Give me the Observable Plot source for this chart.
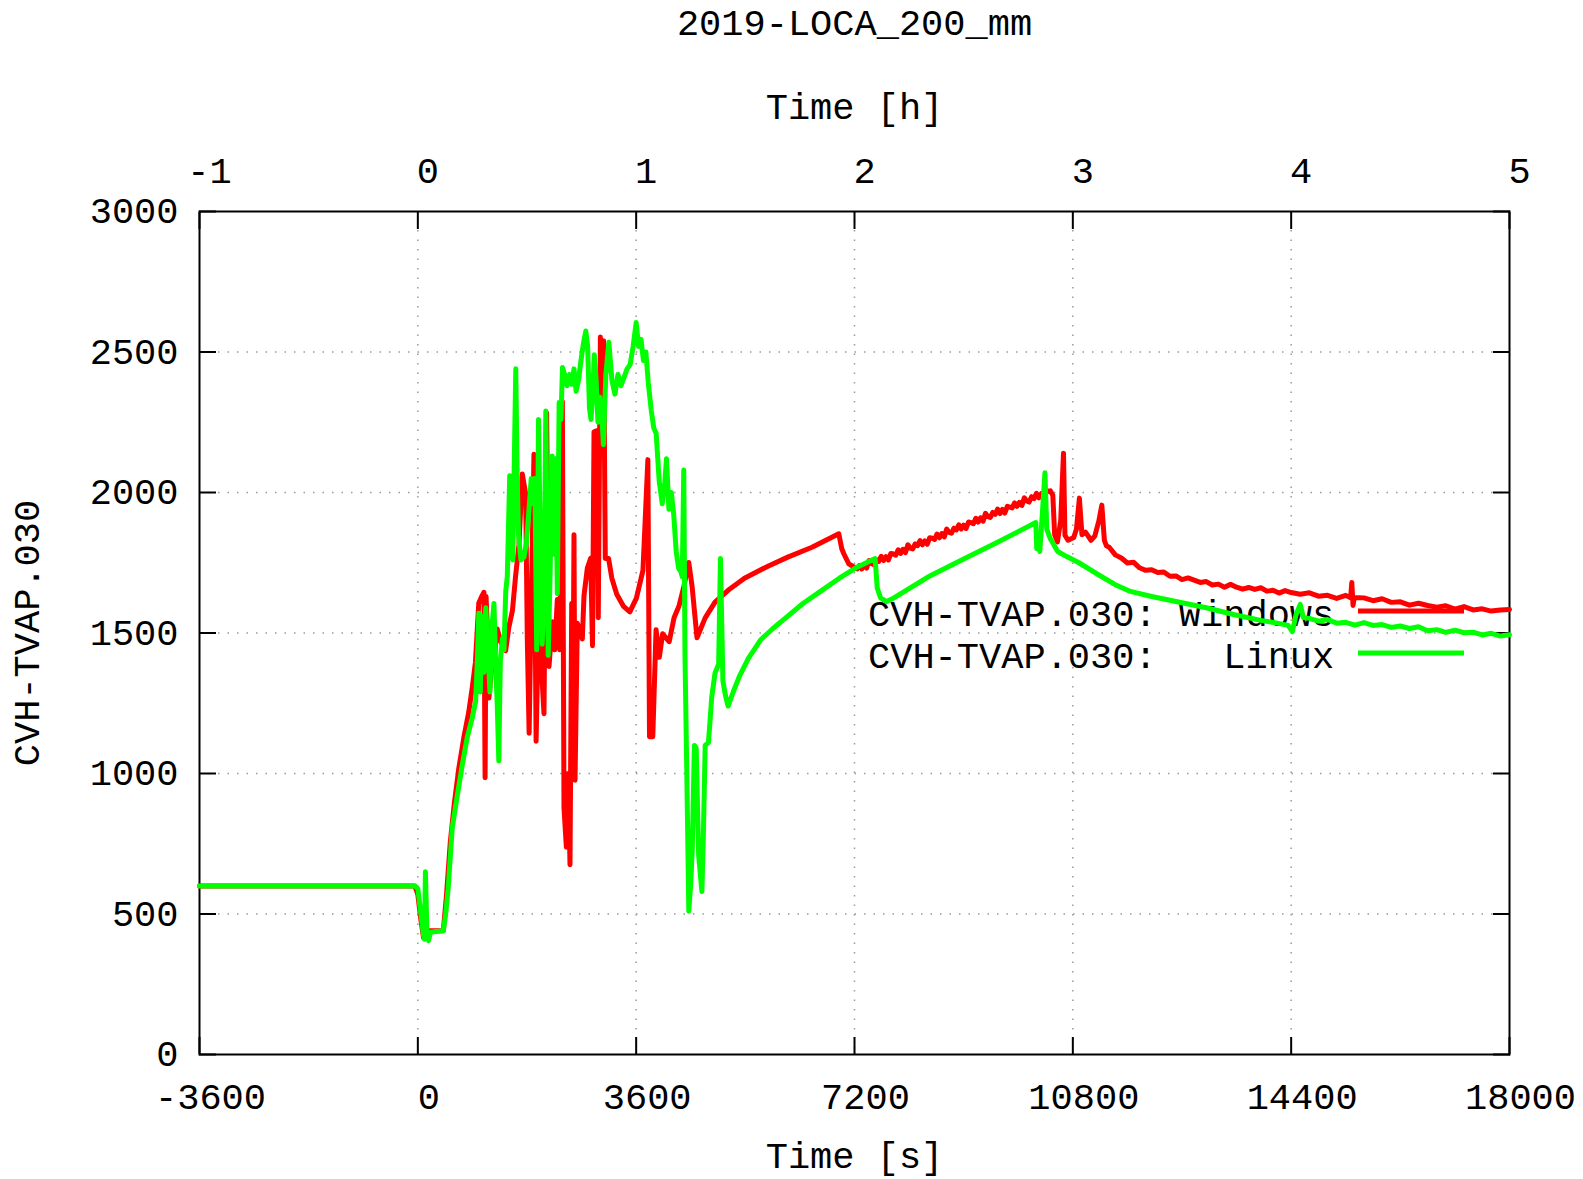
<!DOCTYPE html>
<html>
<head>
<meta charset="utf-8">
<script src="https://cdn.jsdelivr.net/npm/d3@7"></script>
<script src="https://cdn.jsdelivr.net/npm/@observablehq/plot@0.6"></script>
<style>
  html, body { margin: 0; padding: 0; background: #fff; overflow: hidden; }
</style>
</head>
<body>
<div id="chart"></div>
<script>
// ---- chart text ----
const chartTitle = "2019-LOCA_200_mm";
const xLabelBottom = "Time [s]";
const xLabelTop = "Time [h]";
const yLabel = "CVH-TVAP.030";
const seriesLabels = ["CVH-TVAP.030: Windows", "CVH-TVAP.030:   Linux"];
const seriesColors = ["#ff0000", "#00ff00"];

// ---- ticks ----
const xTicks = [-3600, 0, 3600, 7200, 10800, 14400, 18000];
const yTicks = [0, 500, 1000, 1500, 2000, 2500, 3000];

// ---- series: [time s, value] ----
const windows = [
  [-3600,600],[-50,600],[0,570],[50,480],[95,415],[130,440],[420,440],[470,560],[535,755],[600,890],
  [674,1016],[760,1130],[839,1218],[900,1310],[950,1396],[990,1550],[1005,1607],[1060,1633],[1090,1645],
  [1109,985],[1125,1630],[1150,1500],[1172,1269],[1210,1360],[1253,1396],[1310,1514],[1365,1470],
  [1448,1437],[1500,1520],[1560,1580],[1612,1703],[1668,1815],[1722,2066],[1778,1996],[1805,1479],
  [1835,1143],[1871,1619],[1915,2136],[1950,1115],[1998,1619],[2040,1370],[2080,1213],[2124,2283],
  [2163,1381],[2218,1540],[2256,1440],[2300,1619],[2340,1440],[2383,2325],[2410,878],[2449,738],
  [2480,1000],[2509,675],[2537,1605],[2560,1300],[2575,1850],[2592,976],[2630,1535],[2712,1479],
  [2740,1633],[2795,1731],[2850,1766],[2880,1455],[2905,2216],[2956,2220],[2975,1554],[3010,2553],
  [3035,2200],[3064,2540],[3091,1765],[3145,1765],[3199,1695],[3280,1638],[3388,1596],[3496,1575],
  [3604,1624],[3712,1723],[3793,2117],[3820,1131],[3874,1131],[3928,1512],[3982,1414],[4036,1497],
  [4144,1469],[4225,1554],[4306,1596],[4387,1666],[4468,1751],[4522,1666],[4603,1483],[4738,1554],
  [4900,1610],[5116,1652],[5386,1695],[5764,1737],[6100,1770],[6500,1805],[6941,1853],[6990,1800],
  [7024,1782],[7106,1746],[7243,1728],
  [7280,1740],[7320,1728],[7360,1742],[7400,1731],[7440,1758],[7480,1747],[7520,1743],[7560,1761],
  [7600,1755],[7640,1773],[7680,1758],[7720,1772],[7760,1760],[7800,1783],[7840,1781],[7880,1777],
  [7920,1796],[7960,1783],[8000,1798],[8040,1786],[8080,1814],[8120,1802],[8160,1799],[8200,1817],
  [8240,1811],[8280,1829],[8320,1814],[8360,1828],[8400,1816],[8440,1839],[8480,1837],[8520,1833],
  [8560,1852],[8600,1839],[8640,1854],[8680,1842],[8720,1870],[8760,1858],[8800,1855],[8840,1873],
  [8880,1867],[8920,1885],[8960,1870],[9000,1884],[9040,1872],[9080,1895],[9120,1893],[9160,1889],
  [9200,1908],[9240,1895],[9280,1910],[9320,1898],[9360,1926],[9400,1914],[9440,1911],[9480,1929],
  [9520,1922],[9560,1941],[9600,1925],[9640,1940],[9680,1927],[9720,1951],[9760,1948],[9800,1945],
  [9840,1963],[9880,1951],[9920,1965],[9960,1954],[10000,1981],[10040,1970],[10080,1966],[10120,1985],
  [10160,1978],[10200,1997],[10240,1981],[10280,1996],[10320,1983],[10360,2007],[10400,2004],
  [10430,2006],[10470,1990],[10500,1850],[10546,1824],[10600,1900],[10646,2140],[10670,1848],
  [10720,1830],[10815,1840],[10860,1870],[10908,1980],[10950,1850],[11008,1859],[11100,1830],
  [11162,1845],[11230,1900],[11278,1955],[11320,1830],[11355,1810],
  [11400,1805],[11500,1778],[11600,1767],[11700,1749],[11800,1752],[11900,1732],[12000,1723],
  [12100,1725],[12200,1715],[12300,1717],[12400,1702],[12500,1703],[12600,1690],[12700,1696],
  [12800,1688],[12900,1680],[13000,1683],[13100,1671],[13200,1674],[13300,1663],[13400,1673],
  [13500,1663],[13600,1656],[13700,1662],[13800,1655],[13900,1661],[14000,1649],[14100,1652],
  [14200,1642],[14300,1651],[14400,1644],[14550,1638],[14700,1643],[14850,1631],[15000,1634],
  [15150,1623],[15300,1634],[15380,1625],[15400,1680],[15420,1598],[15440,1626],[15600,1625],
  [15750,1615],[15900,1622],[16050,1609],[16200,1611],[16350,1599],[16500,1606],[16650,1598],
  [16800,1592],[16950,1597],[17100,1585],[17250,1594],[17400,1582],[17550,1586],[17700,1578],
  [17850,1582],[18000,1584]
];

const linux = [
  [-3600,600],[-50,600],[0,590],[40,520],[90,430],[110,410],[125,650],[150,440],[175,405],[210,435],
  [300,438],[420,440],[460,500],[500,590],[568,808],[650,920],[733,1031],[815,1129],[898,1199],
  [953,1255],[985,1420],[1005,1570],[1030,1290],[1060,1560],[1090,1360],[1120,1590],[1150,1470],
  [1189,1290],[1225,1530],[1255,1605],[1285,1380],[1310,1240],[1335,1045],[1360,1400],[1395,1480],
  [1420,1440],[1450,1650],[1475,1700],[1495,1880],[1515,2060],[1540,1990],[1565,1760],[1590,2100],
  [1615,2440],[1638,2060],[1660,1850],[1700,1760],[1750,1770],[1790,1820],[1830,1930],[1870,2050],
  [1900,1960],[1930,2050],[1960,1440],[1990,2260],[2020,1800],[2050,1460],[2080,1620],[2110,2290],
  [2150,1420],[2180,1700],[2215,2130],[2245,1780],[2275,2120],[2300,1640],[2330,2320],[2360,2260],
  [2385,2445],[2420,2420],[2460,2380],[2500,2420],[2540,2385],[2575,2440],[2610,2360],[2650,2400],
  [2690,2470],[2730,2530],[2770,2575],[2800,2520],[2830,2300],[2855,2260],[2880,2340],[2910,2490],
  [2940,2400],[2970,2250],[3000,2340],[3035,2270],[3060,2170],[3100,2420],[3150,2535],[3200,2400],
  [3250,2350],[3300,2420],[3350,2380],[3400,2410],[3450,2440],[3500,2455],[3550,2520],[3600,2605],
  [3640,2520],[3680,2545],[3720,2470],[3760,2500],[3800,2390],[3850,2290],[3890,2230],[3930,2210],
  [3980,2040],[4030,1960],[4070,2030],[4100,2120],[4140,1940],[4180,2000],[4220,1920],[4260,1790],
  [4300,1730],[4335,1720],[4360,1700],[4385,2080],[4405,1420],[4435,1000],[4468,510],[4500,610],
  [4525,730],[4560,1100],[4590,1090],[4630,710],[4684,580],[4710,800],[4738,1100],[4792,1110],
  [4846,1272],[4900,1357],[4960,1390],[4990,1765],[5030,1330],[5070,1280],[5116,1240],[5200,1290],
  [5300,1345],[5450,1410],[5650,1475],[5850,1515],[6100,1560],[6350,1605],[6650,1650],[6950,1695],
  [7250,1735],[7540,1765],[7575,1660],[7630,1625],[7730,1612],[7850,1625],[8450,1704],[9000,1763],
  [9550,1822],[10190,1893],[10205,1800],[10230,1830],[10255,1790],[10290,1900],[10340,2070],
  [10370,1870],[10430,1835],[10550,1790],[10700,1772],[10900,1750],[11200,1710],[11500,1672],
  [11750,1648],[12100,1630],[12500,1612],[13000,1590],[13450,1566],[13900,1545],[14150,1536],
  [14350,1527],[14420,1505],[14480,1565],[14550,1602],[14600,1555],[14700,1552],[14850,1542],
  [15000,1548],[15150,1535],[15300,1538],[15450,1528],[15600,1537],[15750,1527],[15900,1530],
  [16050,1520],[16200,1525],[16350,1516],[16500,1522],[16650,1508],[16800,1512],[16950,1502],
  [17100,1510],[17250,1501],[17400,1503],[17550,1493],[17700,1499],[17850,1489],[18000,1494]
];

const FONT = "'Liberation Mono', 'Courier New', 'DejaVu Sans Mono', monospace";
const FS = 37;

function legendItem(label, color, rowOffset) {
  return (index, scales, values, dim) => {
    const g = d3.create("svg:g");
    const xr = dim.width - dim.marginRight;
    const y = dim.marginTop + rowOffset;
    g.append("text")
      .attr("x", xr - 641)
      .attr("y", y)
      .attr("dy", "0.32em")
      .attr("text-anchor", "start")
      .attr("xml:space", "preserve")
      .style("white-space", "pre")
      .attr("font-family", FONT)
      .attr("font-size", FS)
      .attr("fill", "#000")
      .text(label);
    g.append("line")
      .attr("x1", xr - 151).attr("x2", xr - 45)
      .attr("y1", y - 3).attr("y2", y - 3)
      .attr("stroke", color).attr("stroke-width", 5);
    return g.node();
  };
}

const gridStyle = {stroke: "#9a9a9a", strokeOpacity: 1, strokeWidth: 1.5, strokeDasharray: "1.5,8"};

const chart = Plot.plot({
  width: 1583,
  height: 1179,
  marginLeft: 199,
  marginRight: 74,
  marginTop: 211,
  marginBottom: 125,
  style: {fontFamily: FONT, fontSize: FS + "px", color: "#000", background: "#fff"},
  x: {domain: [-3600, 18000], nice: false},
  y: {domain: [0, 3000], nice: false},
  marks: [
    Plot.gridX(xTicks.slice(1, -1), gridStyle),
    Plot.gridY(yTicks.slice(1, -1), gridStyle),
    // inward tick marks on all four sides
    Plot.axisY({anchor: "left", ticks: yTicks, tickSize: 17, dx: 17, tickFormat: () => "", label: null, strokeWidth: 2}),
    Plot.axisY({anchor: "right", ticks: yTicks, tickSize: 17, dx: -17, tickFormat: () => "", label: null, strokeWidth: 2}),
    Plot.axisX({anchor: "bottom", ticks: xTicks, tickSize: 17, dy: -17, tickFormat: () => "", label: null, strokeWidth: 2}),
    Plot.axisX({anchor: "top", ticks: xTicks, tickSize: 17, dy: 17, tickFormat: () => "", label: null, strokeWidth: 2}),
    // tick labels
    Plot.axisY({anchor: "left", ticks: yTicks, tickSize: 0, tickPadding: 21, tickFormat: d => String(d), label: null, fontSize: FS}),
    Plot.axisX({anchor: "bottom", ticks: xTicks, tickSize: 0, tickPadding: 28, dx: 11, tickFormat: d => String(d), label: null, fontSize: FS}),
    Plot.axisX({anchor: "top", ticks: xTicks, tickSize: 0, tickPadding: 29, dx: 10, tickFormat: d => String(d / 3600), label: null, fontSize: FS}),
    Plot.frame({stroke: "#000", strokeWidth: 2}),
    // titles
    Plot.text([chartTitle], {frameAnchor: "top", dy: -188, lineAnchor: "middle", textAnchor: "middle", fontSize: FS, fill: "#000"}),
    Plot.text([xLabelTop], {frameAnchor: "top", dy: -104, lineAnchor: "middle", textAnchor: "middle", fontSize: FS, fill: "#000"}),
    Plot.text([xLabelBottom], {frameAnchor: "bottom", dy: 102, lineAnchor: "middle", textAnchor: "middle", fontSize: FS, fill: "#000"}),
    Plot.text([yLabel], {frameAnchor: "left", dx: -172, rotate: -90, lineAnchor: "middle", textAnchor: "middle", fontSize: FS, fill: "#000"}),
    // series 1
    legendItem(seriesLabels[0], seriesColors[0], 403),
    Plot.line(windows, {x: d => d[0], y: d => d[1], stroke: seriesColors[0], strokeWidth: 5, strokeLinejoin: "round"}),
    // series 2
    legendItem(seriesLabels[1], seriesColors[1], 445),
    Plot.line(linux, {x: d => d[0], y: d => d[1], stroke: seriesColors[1], strokeWidth: 5, strokeLinejoin: "round"})
  ]
});
document.getElementById("chart").appendChild(chart);
</script>
</body>
</html>
